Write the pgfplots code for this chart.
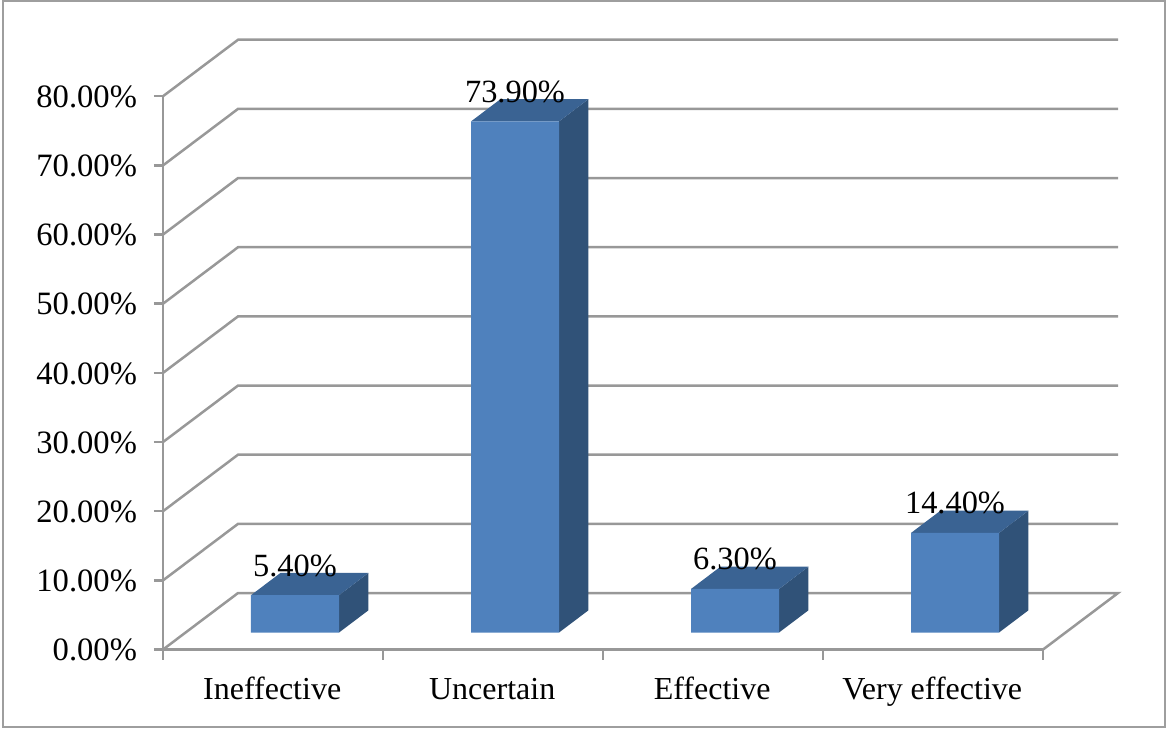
\documentclass[border=0pt]{standalone}
\usepackage{fontspec}
\setmainfont{Liberation Serif}
\usepackage{pgfplots}
\usepackage{pgfplotstable}
\pgfplotsset{compat=1.18}

% picture scale: 1 reference pixel = 0.5pt
\definecolor{wallgray}{HTML}{989898}
\definecolor{framegray}{HTML}{9E9E9E}
\definecolor{barfront}{HTML}{4F81BD}
\definecolor{bartop}{HTML}{3A6393}
\definecolor{barside}{HTML}{305278}

\pgfplotstableread{
x   v    label
0.6 5.4  5.40\%
1.6 73.9 73.90\%
2.6 6.3  6.30\%
3.6 14.4 14.40\%
}\effect

\pgfplotsset{
  wall/.style={draw=wallgray, line width=1.25pt, line join=miter, forget plot},
  front/.style={ybar, bar width=44pt, fill=barfront, draw=none, yshift=8.5pt},
  topface/.style={fill=bartop, draw=none, yshift=8.5pt},
  sideface/.style={fill=barside, draw=none, yshift=8.5pt},
}

\begin{document}
\begin{tikzpicture}
\begin{axis}[
  at={(0,0)}, anchor=south west,
  scale only axis, width=440pt, height=276.65pt,
  xmin=0, xmax=4, ymin=0, ymax=80,
  clip=false,
  axis x line=bottom, axis y line=left,
  axis line style={-, draw=wallgray, line width=1.25pt},
  tick style={draw=wallgray, line width=1.25pt},
  tick align=outside,
  major tick length=4.5pt,
  minor tick length=5pt,
  xtick={0.5,1.5,2.5,3.5},
  xticklabels={Ineffective,Uncertain,Effective,Very effective},
  minor xtick={0,1,2,3,4},
  major x tick style={draw=none},
  ytick={0,10,...,80},
  yticklabels={0.00\%,10.00\%,20.00\%,30.00\%,40.00\%,50.00\%,60.00\%,70.00\%,80.00\%},
  ticklabel style={text=black},
  x tick label style={font=\fontsize{16}{19}\selectfont, anchor=base, yshift=-20.35pt, xshift=-0.4pt},
  y tick label style={font=\fontsize{16.3}{19}\selectfont, xshift=-5pt, yshift=-0.25pt},
]
% back wall lines, one per y tick
\addplot[wall] coordinates {(0,0) (0.341,8.17) (4.341,8.17) (4,0)};
\addplot[wall] coordinates {(0,10) (0.341,18.17) (4.341,18.17)};
\addplot[wall] coordinates {(0,20) (0.341,28.17) (4.341,28.17)};
\addplot[wall] coordinates {(0,30) (0.341,38.17) (4.341,38.17)};
\addplot[wall] coordinates {(0,40) (0.341,48.17) (4.341,48.17)};
\addplot[wall] coordinates {(0,50) (0.341,58.17) (4.341,58.17)};
\addplot[wall] coordinates {(0,60) (0.341,68.17) (4.341,68.17)};
\addplot[wall] coordinates {(0,70) (0.341,78.17) (4.341,78.17)};
\addplot[wall] coordinates {(0,80) (0.341,88.17) (4.341,88.17)};

% bars: side, top, then front
\addplot[sideface] coordinates {(0.8,0) (0.934,3.22) (0.934,8.62) (0.8,5.4)} --cycle;
\addplot[topface] coordinates {(0.4,5.4) (0.8,5.4) (0.934,8.62) (0.534,8.62)} --cycle;
\addplot[sideface] coordinates {(1.8,0) (1.934,3.22) (1.934,77.12) (1.8,73.9)} --cycle;
\addplot[topface] coordinates {(1.4,73.9) (1.8,73.9) (1.934,77.12) (1.534,77.12)} --cycle;
\addplot[sideface] coordinates {(2.8,0) (2.934,3.22) (2.934,9.52) (2.8,6.3)} --cycle;
\addplot[topface] coordinates {(2.4,6.3) (2.8,6.3) (2.934,9.52) (2.534,9.52)} --cycle;
\addplot[sideface] coordinates {(3.8,0) (3.934,3.22) (3.934,17.62) (3.8,14.4)} --cycle;
\addplot[topface] coordinates {(3.4,14.4) (3.8,14.4) (3.934,17.62) (3.534,17.62)} --cycle;
\addplot[front] table[x=x, y=v] {\effect};

% value labels sit over the bars
\addplot[draw=none, mark=none,
  nodes near coords, point meta=explicit symbolic,
  every node near coord/.style={anchor=base, yshift=18pt, inner sep=0pt,
    font=\fontsize{16.2}{19}\selectfont, text=black}]
  table[x=x, y=v, meta=label] {\effect};
\end{axis}
\draw[framegray, line width=1.25pt] (-80pt,-38.85pt) rectangle (501pt,324.15pt);
\path[use as bounding box] (-81.5pt,-39.85pt) rectangle (502pt,324.65pt);
\end{tikzpicture}
\end{document}
